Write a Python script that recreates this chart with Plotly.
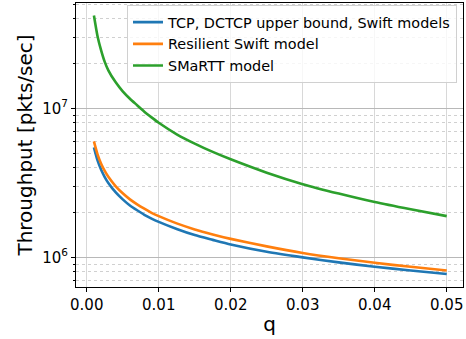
import plotly.graph_objects as go

q = [0.001, 0.0015, 0.002, 0.0025, 0.003, 0.004, 0.005, 0.006, 0.007, 0.008, 0.009,
     0.01, 0.0125, 0.015, 0.0175, 0.02, 0.025, 0.03, 0.035, 0.04, 0.045, 0.05]

tcp_swift = [5.47e6, 4.47e6, 3.87e6, 3.46e6, 3.16e6, 2.74e6, 2.45e6, 2.23e6, 2.07e6, 1.93e6, 1.82e6,
             1.73e6, 1.55e6, 1.41e6, 1.31e6, 1.22e6, 1.09e6, 1.0e6, 9.25e5, 8.65e5, 8.16e5, 7.74e5]

resilient_swift = [6.0e6, 4.91e6, 4.25e6, 3.80e6, 3.47e6, 3.01e6, 2.69e6, 2.45e6, 2.27e6, 2.12e6, 1.99e6,
                   1.89e6, 1.69e6, 1.54e6, 1.425e6, 1.33e6, 1.185e6, 1.07e6, 9.86e5, 9.19e5, 8.64e5, 8.17e5]

smartt = [4.2e7, 3.05e7, 2.45e7, 2.05e7, 1.8e7, 1.5e7, 1.3e7, 1.16e7, 1.05e7, 9.5e6, 8.7e6,
          8.0e6, 6.7e6, 5.8e6, 5.1e6, 4.55e6, 3.7e6, 3.1e6, 2.68e6, 2.35e6, 2.1e6, 1.89e6]

names = ["TCP, DCTCP upper bound, Swift models", "Resilient Swift model", "SMaRTT model"]
colors = ["#1f77b4", "#ff7f0e", "#2ca02c"]

x_ticks = [0.0, 0.01, 0.02, 0.03, 0.04, 0.05]
x_tick_labels = ["0.00", "0.01", "0.02", "0.03", "0.04", "0.05"]
y_major = [1e6, 1e7]
y_major_labels = ["10<sup>6</sup>", "10<sup>7</sup>"]
y_minor = [7e5, 8e5, 9e5, 2e6, 3e6, 4e6, 5e6, 6e6, 7e6, 8e6, 9e6, 2e7, 3e7, 4e7, 5e7]

fig = go.Figure()
for ys, nm, c in zip([tcp_swift, resilient_swift, smartt], names, colors):
    fig.add_trace(go.Scatter(x=q, y=ys, mode="lines", name=nm,
                             line=dict(color=c, width=2.6, shape="spline", smoothing=0.6)))

fig.update_layout(
    width=466, height=339,
    margin=dict(l=76, r=3, t=3, b=52, autoexpand=False),
    paper_bgcolor="white", plot_bgcolor="white",
    font=dict(family="DejaVu Sans", size=15, color="black"),
    legend=dict(x=0.9845, y=0.992, xanchor="right", yanchor="top",
                bgcolor="rgba(255,255,255,0.8)", bordercolor="#d0d0d0", borderwidth=1,
                font=dict(size=14.4), itemwidth=30, tracegroupgap=0),
)
fig.update_xaxes(
    automargin=False,
    range=[-0.00149, 0.05226],
    tickvals=x_ticks, ticktext=x_tick_labels,
    showgrid=True, gridcolor="#d8d8d8", gridwidth=1,
    showline=True, linecolor="black", linewidth=1, mirror=True,
    ticks="outside", ticklen=4, tickcolor="black",
    title=dict(text="q", font=dict(size=20), standoff=3),
    zeroline=False,
)
fig.update_yaxes(
    automargin=False,
    type="log", range=[5.801, 7.707],
    tickvals=y_major, ticktext=y_major_labels,
    showgrid=True, gridcolor="#b8b8b8", gridwidth=1,
    showline=True, linecolor="black", linewidth=1, mirror=True,
    ticks="outside", ticklen=4, tickcolor="black",
    minor=dict(tickvals=y_minor, showgrid=True, gridcolor="#d0d0d0", griddash="dot",
               gridwidth=1, ticks="outside", ticklen=2, tickcolor="black"),
    title=dict(text="Throughput [pkts/sec]", font=dict(size=20), standoff=4),
    zeroline=False,
)

fig.write_html("out.html", config={"displayModeBar": False},
               post_script="document.body.style.margin='0';")
